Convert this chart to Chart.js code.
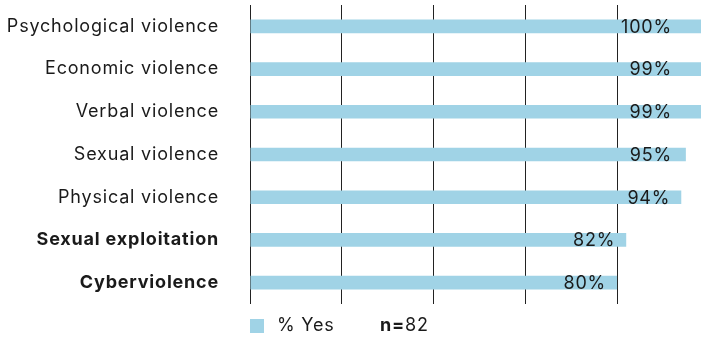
<!DOCTYPE html>
<html>
<head>
<meta charset="utf-8">
<script src="https://cdn.jsdelivr.net/npm/chart.js@4"></script>
<style>
  html, body { margin: 0; padding: 0; background: #fff; }
  #wrap { position: relative; width: 701px; height: 338px; }
</style>
</head>
<body>
<div id="wrap"><canvas id="chart" width="701" height="338"></canvas></div>
<script>
// data
const categories = ['Psychological violence', 'Economic violence', 'Verbal violence', 'Sexual violence', 'Physical violence', 'Sexual exploitation', 'Cyberviolence'];
const yesValues = [100, 99, 99, 95, 94, 82, 80];
const boldCategories = ['Sexual exploitation', 'Cyberviolence'];
const gridTicks = [0, 20, 40, 60, 80];
const seriesLabel = '% Yes';
const sampleSize = 82;

const FONT = 'Inter, "Noto Sans", sans-serif';
const SIZE = 18;
const BAR = '#a0d3e6';

// the reference type is set a bit looser than Inter's default
const spacing = {
    id: 'spacing',
    beforeLayout(chart) { chart.ctx.letterSpacing = '0.8px'; },
    beforeDraw(chart) { chart.ctx.letterSpacing = '0.8px'; }
};

// value labels at the end of each bar (kept inside the visible area)
const valueLabels = {
    id: 'valueLabels',
    afterDatasetsDraw(chart) {
        const ctx = chart.ctx;
        const meta = chart.getDatasetMeta(0);
        const right = chart.chartArea.right;
        ctx.save();
        ctx.font = SIZE + 'px ' + FONT;
        ctx.fillStyle = '#1a1a1a';
        ctx.textAlign = 'right';
        ctx.textBaseline = 'middle';
        meta.data.forEach((bar, i) => {
            const x = Math.min(bar.x - 11, right - 29);
            ctx.fillText(yesValues[i] + '%', x, bar.y + 1);
        });
        ctx.restore();
    }
};

// legend + sample size under the plot
const bottomLegend = {
    id: 'bottomLegend',
    afterDraw(chart) {
        const ctx = chart.ctx;
        const left = chart.chartArea.left;
        const y = 326;
        ctx.save();
        ctx.fillStyle = chart.data.datasets[0].backgroundColor;
        ctx.fillRect(left, y - 7, 14, 14);
        ctx.fillStyle = '#1a1a1a';
        ctx.textBaseline = 'middle';
        ctx.textAlign = 'left';
        ctx.font = SIZE + 'px ' + FONT;
        ctx.fillText(chart.data.datasets[0].label, left + 27, y);
        ctx.font = 'bold ' + SIZE + 'px ' + FONT;
        ctx.fillText('n=', left + 130, y);
        const w = ctx.measureText('n=').width;
        ctx.font = SIZE + 'px ' + FONT;
        ctx.fillText(String(sampleSize), left + 130 + w, y);
        ctx.restore();
    }
};

const ctx = document.getElementById('chart').getContext('2d');
new Chart(ctx, {
    type: 'bar',
    data: {
        labels: categories,
        datasets: [{
            label: seriesLabel,
            data: yesValues,
            backgroundColor: BAR,
            borderWidth: 0,
            barPercentage: 0.8,
            categoryPercentage: 0.4
        }]
    },
    options: {
        indexAxis: 'y',
        responsive: false,
        animation: false,
        layout: { padding: { top: 5, bottom: 34, right: 0, left: 0 } },
        plugins: {
            legend: { display: false },
            tooltip: { enabled: false }
        },
        scales: {
            x: {
                min: 0,
                max: 98.3,
                afterBuildTicks: axis => { axis.ticks = gridTicks.map(v => ({ value: v })); },
                afterFit: axis => { axis.height = 0; },
                ticks: { display: false },
                grid: { color: '#222', lineWidth: 1, drawTicks: false },
                border: { display: false }
            },
            y: {
                afterFit: axis => {
                    axis.width = 250;
                    axis.paddingTop = 0;
                    axis.paddingBottom = 0;
                },
                grid: { display: false, drawTicks: false },
                border: { display: false },
                ticks: {
                    padding: 31,
                    color: '#1a1a1a',
                    font: c => ({
                        family: FONT,
                        size: SIZE,
                        weight: boldCategories.includes(categories[c.index]) ? 'bold' : 'normal'
                    })
                }
            }
        }
    },
    plugins: [spacing, valueLabels, bottomLegend]
});
</script>
</body>
</html>
